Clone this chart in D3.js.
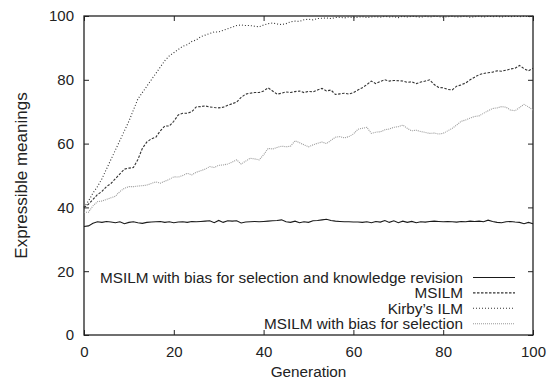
<!DOCTYPE html>
<html>
<head>
<meta charset="utf-8">
<script src="https://cdn.jsdelivr.net/npm/d3@7/dist/d3.min.js"></script>
<style>
  body { margin: 0; background: #fff; }
  svg { display: block; font-family: "Liberation Sans", Arial, sans-serif; }
  .tick text { font-size: 15px; fill: #222; }
  .axis path { display: none; }
  .axis line { stroke: #222; stroke-width: 1; }
</style>
</head>
<body>
<svg width="554" height="381"></svg>
<script>
// Values, one per generation 0..100
let generations = d3.range(0, 101);
let xTicks = [0, 20, 40, 60, 80, 100];
let yTicks = [0, 20, 40, 60, 80, 100];

let revisionValues = [34, 34.2, 35, 35.5, 35.3, 35.6, 35.4, 35.2, 35.5, 34.9, 35.3, 35.5, 35.2, 35, 35.3, 35.4, 35.5, 35.6, 35.3, 35.5,
    35.2, 35.4, 35.5, 35.3, 35.6, 35.5, 35.6, 35.7, 35.8, 35.2, 35.9, 35.3, 35.8, 35.7, 35.8, 35.1, 35.4, 35.5, 35.6, 35.5,
    35.6, 35.7, 35.8, 35.9, 36.1, 35.5, 35.3, 35.7, 35.2, 35.5, 35.3, 35.8, 35.9, 36.1, 36.3, 35.9, 35.7, 35.6, 35.5, 35.5,
    35.4, 35.4, 35.3, 35.5, 35.2, 35.6, 35.4, 35.9, 35.3, 35.8, 35.2, 35.7, 35.3, 35.6, 35.2, 35.5, 35.4, 35.6, 35.7, 35.6,
    35.5, 35.6, 35.5, 35.4, 35.6, 35.5, 35.7, 35.6, 35.7, 35.5, 36, 35.6, 35.3, 35.2, 35.5, 35.6, 35.4, 35.3, 34.9, 35.3, 34.9];

let msilmValues = [40, 41, 42.5, 44, 45, 46.5, 47.5, 49, 50.5, 52, 52.3, 52.5, 55, 58.5, 60.5, 61.5, 62, 64, 65.5, 65.5,
    67, 69, 69.5, 69.5, 70, 71.5, 71.6, 71.8, 71.5, 71.3, 71.2, 71.4, 72, 72.5, 73, 74.5, 75.5, 75.8, 76, 76,
    76.5, 77.5, 76.5, 75.5, 75.8, 76.2, 76, 76.3, 76.5, 76, 76.4, 76.2, 76.8, 77.3, 76.5, 76.8, 75.4, 75.6, 75.8, 75.5,
    76, 76.8, 77.5, 78.5, 79.6, 78.8, 79.5, 80, 79.6, 79.8, 79.7, 79.6, 79.2, 79.4, 78.8, 79.3, 79.6, 80, 78.5, 77.6,
    77.5, 77, 76.8, 78, 78.4, 79, 80, 80.8, 81.6, 82, 82.2, 82.4, 82.8, 82.7, 83, 83.4, 83.6, 84.5, 83.5, 82.8, 83.6];

let kirbyValues = [40, 42, 44.5, 46.5, 49, 52, 55, 58, 61, 64, 67, 70.5, 74, 76, 78, 80, 82, 84, 86, 87.5,
    88.5, 89.5, 90.5, 91, 92, 92.5, 93.5, 94, 94.5, 95, 95, 95.5, 96, 96.5, 97, 97.2, 97, 97, 96.8, 96.6,
    97.2, 97.6, 97.8, 97.5, 97.3, 97.6, 98.2, 98.4, 98.3, 98.8, 99, 98.8, 99.2, 99.3, 99.4, 99.2, 99.5, 99.6, 99.4, 99.7,
    99.5, 99.6, 99.8, 99.5, 99.7, 99.8, 99.6, 99.9, 99.7, 99.8, 99.5, 99.9, 99.7, 99.9, 99.8, 99.6, 99.9, 99.7, 99.9, 99.8,
    99.6, 99.8, 99.9, 99.7, 99.8, 99.9, 99.6, 99.8, 99.9, 99.7, 99.9, 99.8, 99.9, 99.7, 99.9, 99.8, 99.9, 99.8, 99.9, 99.8, 99.9];

let selectionValues = [38.5, 38.5, 40.5, 41.8, 42, 42.5, 43, 43.5, 45, 46, 46.5, 46.5, 46.7, 46.8, 47, 47.5, 48, 47.6, 48.2, 48.8,
    49.6, 49.5, 50, 50.7, 50.2, 51, 51.5, 52, 52.8, 52.5, 53.2, 53.3, 53.6, 54.2, 54.9, 53.6, 54.5, 55.4, 55.2, 54.9,
    56.5, 58.5, 58.3, 58.8, 59.2, 59, 59.2, 60.9, 60.3, 59.6, 59, 59.6, 60.1, 60.5, 60, 61, 62, 62.2, 61.8, 62.2,
    63, 64.5, 64.8, 65.1, 63.2, 63.6, 63.7, 64.3, 64.6, 65.1, 65.3, 65.8, 64.8, 64, 64.2, 63.8, 63.5, 63.2, 63.3, 63,
    63.2, 64, 64.8, 65.8, 67, 67.4, 68, 68.5, 68.7, 69.5, 70.3, 71, 71.2, 71.6, 71.4, 70.5, 70.3, 71.3, 72.3, 71.5, 70.5];

let seriesNames = ["MSILM with bias for selection and knowledge revision", "MSILM", "Kirby\u2019s ILM", "MSILM with bias for selection"];

// Set up variables
let svg = d3.select("svg");
let plotLeft = 84, plotRight = 533, plotTop = 16, plotBottom = 335;
let plotWidth = plotRight - plotLeft;
let plotHeight = plotBottom - plotTop;
let tickLen = 5;

let styles = [
    { color: "#1a1a1a", dash: null, width: 1.1 },
    { color: "#333", dash: "2.5,1.5", width: 1.1 },
    { color: "#333", dash: "1,2", width: 1.1 },
    { color: "#999", dash: "1,1", width: 1.1 }
];

let series = [revisionValues, msilmValues, kirbyValues, selectionValues].map(function(vals, i) {
    return { name: seriesNames[i], values: vals, style: styles[i] };
});

// Scales
let xScale = d3.scaleLinear().domain([0, 100]).range([0, plotWidth]);
let yScale = d3.scaleLinear().domain([0, 100]).range([plotHeight, 0]);

let g = svg.append("g")
    .attr("transform", "translate(" + plotLeft + "," + plotTop + ")");

// Axes with inward ticks, mirrored on top and right
g.append("g")
    .attr("class", "axis")
    .attr("transform", "translate(0," + plotHeight + ")")
    .call(d3.axisBottom(xScale).tickValues(xTicks).tickSizeInner(-tickLen).tickSizeOuter(0).tickPadding(11));

g.append("g")
    .attr("class", "axis")
    .call(d3.axisLeft(yScale).tickValues(yTicks).tickSizeInner(-tickLen).tickSizeOuter(0).tickPadding(10));

g.append("g")
    .attr("class", "axis")
    .call(d3.axisTop(xScale).tickValues(xTicks).tickSizeInner(-tickLen).tickSizeOuter(0).tickFormat(""));

g.append("g")
    .attr("class", "axis")
    .attr("transform", "translate(" + plotWidth + ",0)")
    .call(d3.axisRight(yScale).tickValues(yTicks).tickSizeInner(-tickLen).tickSizeOuter(0).tickFormat(""));

// Frame
g.append("rect")
    .attr("width", plotWidth)
    .attr("height", plotHeight)
    .attr("fill", "none")
    .attr("stroke", "#222")
    .attr("stroke-width", 1.3);

// Lines
let line = d3.line()
    .x(function(d, i) { return xScale(generations[i]); })
    .y(function(d) { return yScale(d); });

g.selectAll("path.series")
    .data(series)
    .enter().append("path")
    .attr("class", "series")
    .attr("fill", "none")
    .attr("stroke", function(d) { return d.style.color; })
    .attr("stroke-width", function(d) { return d.style.width; })
    .attr("stroke-dasharray", function(d) { return d.style.dash; })
    .attr("d", function(d) { return line(d.values); });

// Legend
let legend = svg.append("g")
    .attr("transform", "translate(463,277.5)");

let rows = legend.selectAll("g.row")
    .data(series)
    .enter().append("g")
    .attr("class", "row")
    .attr("transform", function(d, i) { return "translate(0," + (i * 15.4) + ")"; });

rows.append("text")
    .attr("text-anchor", "end")
    .attr("dy", "0.36em")
    .attr("font-size", "15.3px")
    .attr("fill", "#222")
    .text(function(d) { return d.name; });

rows.append("line")
    .attr("x1", 10)
    .attr("x2", 52)
    .attr("stroke", function(d) { return d.style.color; })
    .attr("stroke-width", function(d) { return d.style.width; })
    .attr("stroke-dasharray", function(d) { return d.style.dash; });

// Axis titles
svg.append("text")
    .attr("x", plotLeft + plotWidth / 2)
    .attr("y", 377)
    .attr("text-anchor", "middle")
    .attr("font-size", "15.3px")
    .attr("fill", "#222")
    .text("Generation");

svg.append("text")
    .attr("transform", "translate(27," + (plotTop + plotHeight / 2) + ") rotate(-90)")
    .attr("text-anchor", "middle")
    .attr("font-size", "17px")
    .attr("fill", "#222")
    .text("Expressible meanings");
</script>
</body>
</html>
